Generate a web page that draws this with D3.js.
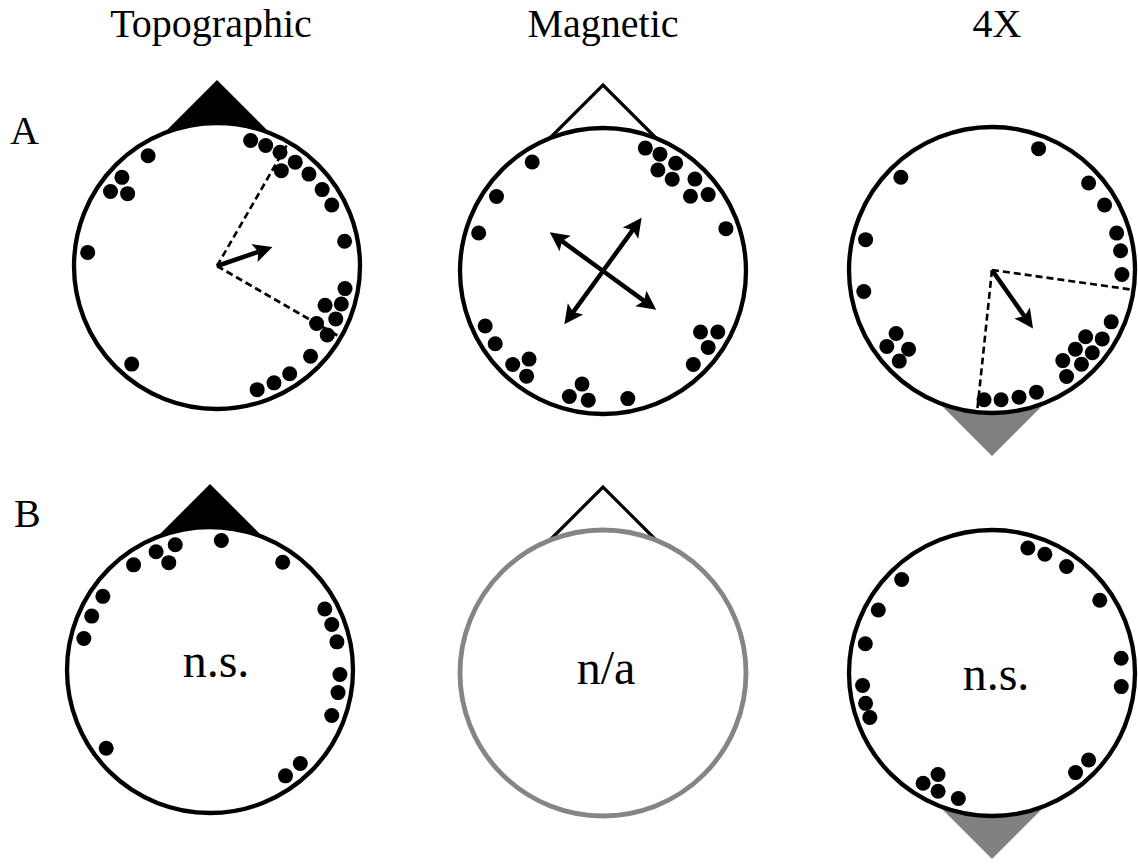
<!DOCTYPE html>
<html>
<head>
<meta charset="utf-8">
<script src="https://cdn.jsdelivr.net/npm/d3@7"></script>
<style>
  body { margin: 0; background: #fff; }
  text { font-family: "Liberation Serif", "Times New Roman", serif; fill: #000; }
</style>
</head>
<body>
<svg id="fig" width="1138" height="865"></svg>
<script>
// Column and row headings
const columns = ["Topographic", "Magnetic", "4X"];
const rows = ["A", "B"];

// Individual headings (degrees clockwise from the top of each circle).
// The stack arrays give how far each point is stacked inward from the rim.
const topoA_angles = [15, 22, 29, 34, 37, 45, 54, 62, 79, 100, 107, 110, 114, 120, 122, 134, 146, 154, 162, 221, 276, 305, 309, 313, 328];
const topoA_stack  = [0, 0, 0, 1, 0, 0, 0, 0, 0, 0, 0, 1, 0, 1, 0, 0, 0, 0, 0, 0, 0, 0, 1, 0, 0];

const magA_angles = [19, 26, 28.5, 34, 37, 45, 49.5, 54, 71, 118, 122, 126, 136, 169, 186.5, 190.5, 195, 216, 220, 224, 236, 245, 287, 305, 327];
const magA_stack  = [0, 0, 1, 0, 1, 0, 1, 0, 0, 0, 1, 0, 0, 0, 0, 1, 0, 0, 1, 0, 0, 0, 0, 0, 0];

const fourA_angles = [21, 48, 60, 73.5, 81.5, 92, 113.5, 122, 125.5, 129.5, 133.5, 136.5, 142, 145, 160, 168, 176, 183.5, 225.5, 226.5, 234, 236.5, 260.5, 283.5, 315.5];
const fourA_stack  = [0, 0, 0, 0, 0, 0, 0, 0, 1, 0, 1, 0, 1, 0, 0, 0, 0, 0, 0, 1, 0, 1, 0, 0, 0];

const topoB_angles = [5, 34, 62, 69.5, 77.5, 92, 100, 110.5, 136, 144.5, 233, 284, 294.5, 304.5, 324, 335.5, 339, 344.5];
const topoB_stack  = [0, 0, 0, 0, 0, 0, 0, 0, 0, 0, 0, 0, 0, 0, 0, 0, 1, 0];

const fourB_angles = [16, 24, 35, 56, 83.5, 96, 132, 140, 195, 204.5, 208, 212, 250, 256.5, 264.5, 283, 299, 316];
const fourB_stack  = [0, 0, 0, 0, 0, 0, 0, 0, 0, 0, 1, 0, 0, 0, 0, 0, 0, 0];

// Mean vectors (length as a fraction of the circle radius) and 95% confidence limits
const topoA_mean = { angle: 71, length: 0.41 };
const topoA_ci = [30, 120];
const magA_axes = [{ angle: 36, length: 0.46 }, { angle: 126, length: 0.46 }];
const fourA_mean = { angle: 145, length: 0.5 };
const fourA_ci = [98, 186];

const notes = ["n.s.", "n/a", "n.s."];

// ---- layout ----
const R = 143;            // circle radius
const dotR = 7.5;
const svg = d3.select("#fig");

const angleScale = d3.scaleLinear().domain([0, 360]).range([0, 2 * Math.PI]);
const vectorScale = d3.scaleLinear().domain([0, 1]).range([0, R]);
const stackScale = d3.scaleLinear().domain([0, 1]).range([130, 115]);

const panels = [
  { row: 0, col: 0, cx: 217, cy: 266, cue: "solid-top", angles: topoA_angles, stack: topoA_stack, mean: topoA_mean, ci: topoA_ci },
  { row: 0, col: 1, cx: 603, cy: 271, cue: "open-top", angles: magA_angles, stack: magA_stack, axes: magA_axes },
  { row: 0, col: 2, cx: 992, cy: 270, cue: "grey-bottom", angles: fourA_angles, stack: fourA_stack, mean: fourA_mean, ci: fourA_ci },
  { row: 1, col: 0, cx: 210, cy: 670, cue: "solid-top", angles: topoB_angles, stack: topoB_stack, note: notes[0], ndx: 6, ndy: 7 },
  { row: 1, col: 1, cx: 603, cy: 673, cue: "open-top", angles: [], stack: [], ring: "#858585", note: notes[1], ndx: 3, ndy: 11 },
  { row: 1, col: 2, cx: 992, cy: 673, cue: "grey-bottom", angles: fourB_angles, stack: fourB_stack, note: notes[2], ndx: 4, ndy: 17 }
];

const titleX = [211, 603, 997];

svg.selectAll("text.col")
  .data(columns)
  .join("text")
  .attr("class", "col")
  .attr("x", (d, i) => titleX[i])
  .attr("y", 37)
  .attr("text-anchor", "middle")
  .attr("font-size", 40)
  .text(d => d);

svg.selectAll("text.row")
  .data(rows)
  .join("text")
  .attr("class", "row")
  .attr("x", (d, i) => i === 0 ? 10 : 14)
  .attr("y", (d, i) => i === 0 ? 144 : 527)
  .attr("font-size", 40)
  .text(d => d);

function polar(p, angleDeg, r) {
  const a = angleScale(angleDeg);
  return [p.cx + r * Math.sin(a), p.cy - r * Math.cos(a)];
}

function drawArrow(g, p, angleDeg, len) {
  const a = angleScale(angleDeg);
  const ux = Math.sin(a), uy = -Math.cos(a);
  const tip = [p.cx + ux * len, p.cy + uy * len];
  const headLen = 19, half = 9.5;
  const base = [tip[0] - ux * headLen, tip[1] - uy * headLen];
  g.append("line")
    .attr("x1", p.cx).attr("y1", p.cy)
    .attr("x2", base[0] + ux * 4).attr("y2", base[1] + uy * 4)
    .attr("stroke", "#000").attr("stroke-width", 4.5);
  g.append("path")
    .attr("d", `M${tip[0]},${tip[1]}L${base[0] - uy * half},${base[1] + ux * half}L${base[0] + ux * 4},${base[1] + uy * 4}L${base[0] + uy * half},${base[1] - ux * half}Z`)
    .attr("fill", "#000");
}

panels.forEach(p => {
  const g = svg.append("g");

  // orientation cue (triangle) drawn beneath the circle
  const apex = R + 43, w = 55, baseD = apex - w;
  if (p.cue === "solid-top" || p.cue === "open-top") {
    const pts = [[p.cx - w, p.cy - baseD], [p.cx, p.cy - apex], [p.cx + w, p.cy - baseD]];
    if (p.cue === "solid-top") {
      g.append("path").attr("d", d3.line()(pts) + "Z").attr("fill", "#000");
    } else {
      g.append("path").attr("d", d3.line()(pts)).attr("fill", "none")
        .attr("stroke", "#000").attr("stroke-width", 3.2);
    }
  } else {
    const pts = [[p.cx - w, p.cy + baseD], [p.cx, p.cy + apex], [p.cx + w, p.cy + baseD]];
    g.append("path").attr("d", d3.line()(pts) + "Z").attr("fill", "#808080");
  }

  g.append("circle")
    .attr("cx", p.cx).attr("cy", p.cy).attr("r", R)
    .attr("fill", "#fff")
    .attr("stroke", p.ring || "#000")
    .attr("stroke-width", p.ring ? 4.8 : 4.3);

  // confidence limits
  if (p.ci) {
    p.ci.forEach(c => {
      const e = polar(p, c, R);
      g.append("line")
        .attr("x1", p.cx).attr("y1", p.cy).attr("x2", e[0]).attr("y2", e[1])
        .attr("stroke", "#000").attr("stroke-width", 2.6)
        .attr("stroke-dasharray", "7,4");
    });
  }

  if (p.mean) drawArrow(g, p, p.mean.angle, vectorScale(p.mean.length));
  if (p.axes) {
    p.axes.forEach(ax => {
      drawArrow(g, p, ax.angle, vectorScale(ax.length));
      drawArrow(g, p, ax.angle + 180, vectorScale(ax.length));
    });
  }

  g.selectAll("circle.pt")
    .data(p.angles.map((a, i) => ({ angle: a, level: p.stack[i] })))
    .join("circle")
    .attr("class", "pt")
    .attr("cx", d => polar(p, d.angle, stackScale(d.level))[0])
    .attr("cy", d => polar(p, d.angle, stackScale(d.level))[1])
    .attr("r", dotR)
    .attr("fill", "#000");

  if (p.note) {
    g.append("text")
      .attr("x", p.cx + p.ndx).attr("y", p.cy + p.ndy)
      .attr("text-anchor", "middle")
      .attr("font-size", 48)
      .text(p.note);
  }
});
</script>
</body>
</html>
